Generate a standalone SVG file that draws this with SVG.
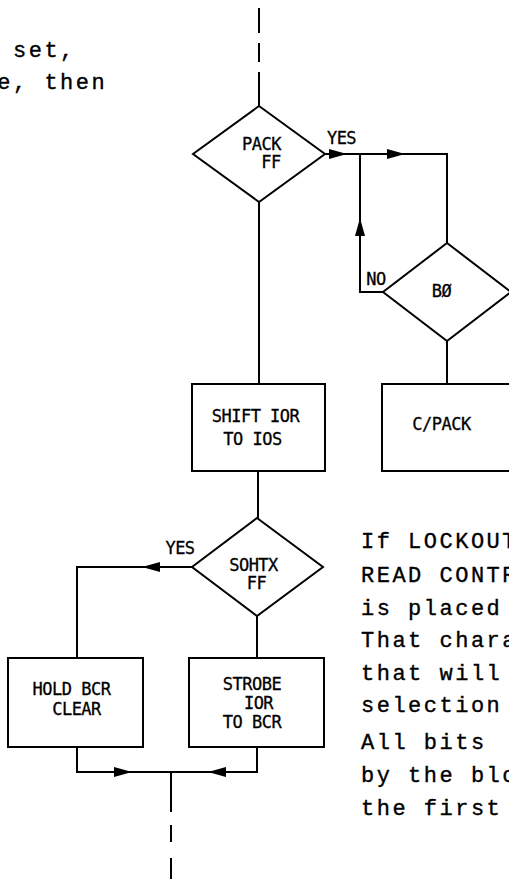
<svg xmlns="http://www.w3.org/2000/svg" width="509" height="879" viewBox="0 0 509 879">
<defs>
<marker id="arr" viewBox="0 0 18 10" refX="18" refY="5" markerWidth="18" markerHeight="10" markerUnits="userSpaceOnUse" orient="auto"><path d="M0,0 L18,5 L0,10 z" fill="#000"/></marker>
</defs>
<style>
.s{fill:none;stroke:#000;stroke-width:2}
.a{marker-end:url(#arr)}
.n{fill:#fff;stroke:#000;stroke-width:2}
.l{font-family:"DejaVu Sans Mono",monospace;font-size:17px;letter-spacing:-0.5px;fill:#000;stroke:#000;stroke-width:0.3;text-anchor:middle}
.t{font-family:"Liberation Mono","Courier New",monospace;font-size:22px;letter-spacing:2.5px;fill:#000;stroke:#000;stroke-width:0.35}
</style>
<rect width="509" height="879" fill="#fff"/>
<g id="connectors">
<path class="s" d="M259,8 V33 M259,43 V62 M259,72 V106"/>
<path class="s" d="M259,202 V384"/>
<path class="s a" d="M325,154 H347"/>
<path class="s a" d="M347,154 H405"/>
<path class="s" d="M405,154 H447 V243"/>
<path class="s a" d="M383,292 H360 V218"/>
<path class="s" d="M360,218 V154"/>
<path class="s" d="M447,341 V384"/>
<path class="s" d="M258,471 V518"/>
<path class="s a" d="M192,567 H142"/>
<path class="s" d="M142,567 H77 V658"/>
<path class="s" d="M257,616 V658"/>
<path class="s a" d="M77,747 V772 H132"/>
<path class="s" d="M132,772 H171"/>
<path class="s a" d="M257,747 V772 H208"/>
<path class="s" d="M208,772 H171"/>
<path class="s" d="M171,772 V812 M171,825 V842 M171,858 V879"/>
</g>
<g id="labels">
<text class="l" x="341.5" y="144">YES</text>
<text class="l" x="376" y="285">NO</text>
<text class="l" x="180" y="554">YES</text>
</g>
<g id="pack-ff">
<polygon class="n" points="259,106 325,154 259,202 193,154"/>
<text class="l" x="261.5" y="150">PACK</text>
<text class="l" x="271" y="168">FF</text>
</g>
<g id="b0">
<polygon class="n" points="447,243 511,292 447,341 383,292"/>
<text class="l" x="441.5" y="297">BØ</text>
</g>
<g id="shift-ior">
<rect class="n" x="192" y="384" width="133" height="87"/>
<text class="l" x="255.5" y="422">SHIFT IOR</text>
<text class="l" x="252.5" y="445">TO IOS</text>
</g>
<g id="c-pack">
<rect class="n" x="382" y="384" width="140" height="87"/>
<text class="l" x="441.5" y="430">C/PACK</text>
</g>
<g id="sohtx-ff">
<polygon class="n" points="257,518 323,567 257,616 192,567"/>
<text class="l" x="253.5" y="571">SOHTX</text>
<text class="l" x="256.5" y="589">FF</text>
</g>
<g id="hold-bcr">
<rect class="n" x="8" y="658" width="135" height="89"/>
<text class="l" x="71.5" y="695">HOLD BCR</text>
<text class="l" x="76.5" y="715">CLEAR</text>
</g>
<g id="strobe">
<rect class="n" x="189" y="658" width="135" height="89"/>
<text class="l" x="252" y="690">STROBE</text>
<text class="l" x="258.5" y="709">IOR</text>
<text class="l" x="252" y="728">TO BCR</text>
</g>
<g id="text-top">
<text class="t" x="13" y="57">set,</text>
<text class="t" x="-2.7" y="88.5">e, then</text>
</g>
<g id="text-right">
<text class="t" x="361" y="548">If LOCKOUT</text>
<text class="t" x="361" y="582">READ CONTR</text>
<text class="t" x="361" y="615">is placed</text>
<text class="t" x="361" y="647">That chara</text>
<text class="t" x="361" y="680">that will</text>
<text class="t" x="361" y="712">selection</text>
<text class="t" x="361" y="749">All bits</text>
<text class="t" x="361" y="782">by the blo</text>
<text class="t" x="361" y="815">the first</text>
</g>
</svg>
